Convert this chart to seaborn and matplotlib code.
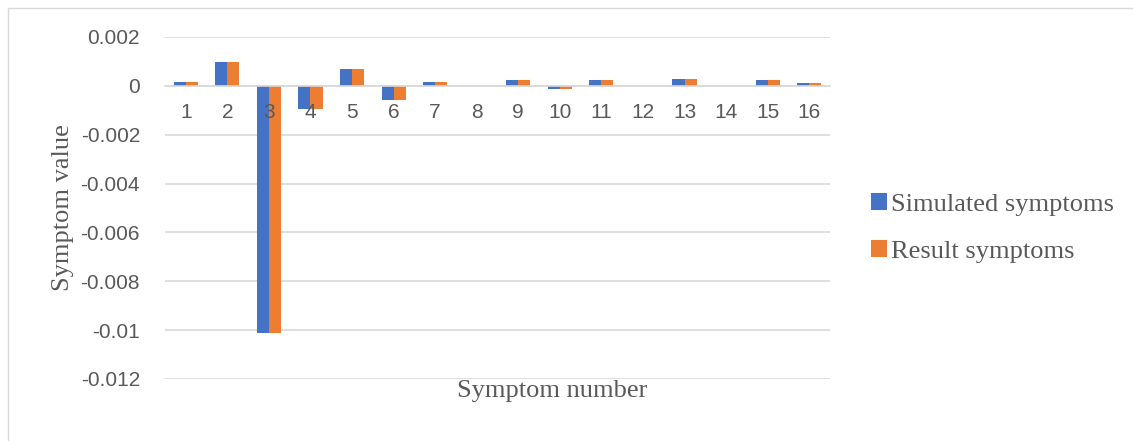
import pandas as pd
import matplotlib.pyplot as plt
import seaborn as sns
from matplotlib.patches import Rectangle

# values
symptoms = [str(i) for i in range(1, 17)]
simulated = [0.00016, 0.00096, -0.0101, -0.00093, 0.00068, -0.00056, 0.00016, 0.0,
             0.00022, -0.00012, 0.00022, 0.0, 0.00027, 0.0, 0.00022, 0.0001]
result = [0.00016, 0.00096, -0.0101, -0.00093, 0.00068, -0.00056, 0.00016, 0.0,
          0.00022, -0.00012, 0.00022, 0.0, 0.00027, 0.0, 0.00022, 0.0001]
series_names = ["Simulated symptoms", "Result symptoms"]
y_ticks = [0.002, 0, -0.002, -0.004, -0.006, -0.008, -0.01, -0.012]
y_tick_labels = ["0.002", "0", "-0.002", "-0.004", "-0.006", "-0.008", "-0.01", "-0.012"]

df = pd.DataFrame({
    "symptom": symptoms * 2,
    "value": simulated + result,
    "series": [series_names[0]] * 16 + [series_names[1]] * 16,
})

sns.set_style("white")
fig = plt.figure(figsize=(11.33, 4.41), dpi=100)
fig.patches.append(Rectangle((8 / 1133, -0.01), 1.1, 1 - 8 / 441 + 0.01, transform=fig.transFigure,
                             fill=False, edgecolor="#D9D9D9", linewidth=1))
ax = fig.add_axes([165 / 1133, 1 - 379 / 441, 665 / 1133, 342 / 441])

# gridlines behind the bars, tick labels drawn on top (like the "3" over bar 3)
for yt in y_ticks:
    ax.axhline(yt, color="#D9D9D9", linewidth=1.2, zorder=0)

sns.barplot(data=df, x="symptom", y="value", hue="series", order=symptoms,
            palette=["#4472C4", "#ED7D31"], width=0.58, saturation=1,
            edgecolor="none", ax=ax)

ax.set_ylim(-0.012, 0.002)
ax.set_xlim(-0.5, 15.5)
ax.set_yticks(y_ticks)
ax.set_yticklabels(y_tick_labels)
ax.grid(False)
ax.set_axisbelow(False)
for s in ["top", "right", "left"]:
    ax.spines[s].set_visible(False)
ax.spines["bottom"].set_position(("data", 0))
ax.spines["bottom"].set_color("#D9D9D9")
ax.spines["bottom"].set_linewidth(1.2)
ax.tick_params(axis="x", length=0, pad=12, labelsize=15, labelcolor="#595959")
ax.tick_params(axis="y", length=0, pad=18, labelsize=15, labelcolor="#595959")
for lab in ax.get_xticklabels() + ax.get_yticklabels():
    lab.set_family("Liberation Sans")

ax.set_xlabel("")
ax.set_ylabel("Symptom value", family="Liberation Serif", fontsize=19, color="#595959", labelpad=5)
fig.text(552 / 1133, 1 - 391 / 441, "Symptom number", family="Liberation Serif",
         fontsize=19, color="#595959", ha="center", va="center")

handles, labels = ax.get_legend_handles_labels()
ax.legend(handles, labels, loc="center left", bbox_to_anchor=(858 / 1133, 1 - 228 / 441),
          bbox_transform=fig.transFigure, frameon=False, handlelength=0.6, handleheight=0.6,
          handletextpad=0.15, labelspacing=0.9, borderpad=0,
          prop={"family": "Liberation Serif", "size": 19}, labelcolor="#595959")

fig.savefig("out.png", dpi=100)
